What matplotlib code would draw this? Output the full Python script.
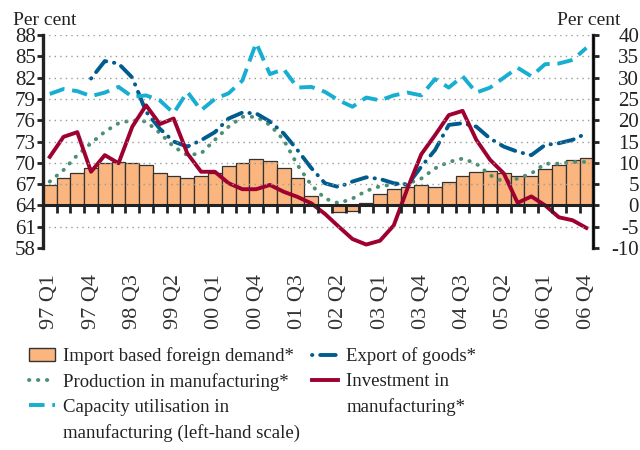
import matplotlib
matplotlib.use("Agg")
import matplotlib.pyplot as plt
from matplotlib.patches import Patch
from matplotlib.lines import Line2D
import numpy as np

plt.rcParams["font.family"] = ["Liberation Serif", "DejaVu Serif"]
plt.rcParams["axes.unicode_minus"] = False

# quarters 97 Q1 .. 06 Q4
years = ["97", "98", "99", "00", "01", "02", "03", "04", "05", "06"]
quarters = [f"{y} Q{q}" for y in years for q in range(1, 5)]

imports = [4.9, 6.4, 7.7, 8.8, 9.9, 10.2, 9.9, 9.4, 7.7, 6.8,
           6.4, 6.8, 7.7, 9.2, 9.9, 11.0, 10.4, 8.8, 6.5, 2.3,
           0.1, -1.6, -1.4, 0.6, 2.7, 3.9, 4.3, 4.7, 4.3, 5.5,
           7.0, 7.8, 8.1, 7.6, 7.0, 7.0, 8.6, 9.6, 10.6, 11.2]
capacity = [79.7, 80.4, 80.1, 79.4, 79.9, 80.7, 79.3, 79.5, 78.8, 77.0,
            80.0, 77.4, 79.0, 79.8, 81.6, 86.9, 82.5, 83.2, 80.6, 80.7,
            80.0, 78.8, 77.9, 79.2, 78.8, 79.5, 79.9, 79.5, 81.8, 80.6,
            82.2, 79.9, 80.6, 82.0, 83.4, 82.2, 83.9, 84.0, 84.5, 86.2]
export = [np.nan, np.nan, np.nan, 29.8, 33.9, 33.3, 30.0, 22.0, 18.0, 15.0,
          13.8, 15.3, 17.2, 20.4, 21.8, 21.6, 19.7, 16.9, 13.0, 8.8,
          5.2, 4.3, 5.6, 6.6, 6.2, 5.2, 4.8, 9.1, 13.0, 18.9,
          19.3, 18.5, 15.7, 13.8, 12.6, 11.8, 14.2, 14.6, 15.4, 16.9]
production = [5.6, 8.3, 11.8, 14.6, 17.3, 19.3, 20.0, 19.7, 17.0, 13.8,
              11.8, 12.2, 15.4, 18.5, 20.8, 20.8, 18.9, 15.4, 9.5, 4.8,
              1.6, 0.5, 1.6, 3.4, 4.5, 4.9, 5.1, 6.3, 8.7, 10.2,
              11.0, 9.8, 7.1, 5.5, 6.3, 7.5, 9.8, 9.8, 10.2, 10.2]
investment = [11.4, 16.1, 17.2, 7.9, 11.8, 9.9, 18.5, 23.5, 19.1, 20.4,
              12.2, 7.9, 7.9, 5.2, 3.8, 3.8, 4.8, 3.2, 2.0, 0.5,
              -2.0, -5.0, -7.9, -9.2, -8.3, -4.7, 4.0, 12.0, 16.5, 21.2,
              22.2, 15.4, 10.7, 7.5, 0.6, 2.1, 0.0, -2.8, -3.5, -5.3]

c_bar = "#fbb57f"
c_cap = "#17aed2"
c_exp = "#005c8f"
c_prod = "#4b9072"
c_inv = "#9e0030"
ink = "#222222"

ls_prod = (0, (0.1, 2.2))
ls_exp = (0, (0.1, 2.0, 4.0, 2.0))
ls_cap = (0, (4.0, 2.0))

x = np.arange(len(quarters))

fig = plt.figure(figsize=(6.4, 4.5), dpi=100)
ax = fig.add_axes([0.067, 0.449, 0.86, 0.473])
ax2 = ax.twinx()

ax.set_ylim(58, 88)
ax.set_yticks(np.arange(58, 89, 3))
ax2.set_ylim(-10, 40)
ax2.set_yticks(np.arange(-10, 41, 5))
ax.set_xlim(-0.5, len(x) - 0.5)

for v in np.arange(61, 89, 3):
    ax.axhline(v, color="#999999", lw=1, ls=(0, (1, 3)), zorder=0)

ax2.bar(x, imports, width=1.0, color=c_bar, edgecolor="#333333", lw=0.9, zorder=1)
ax2.plot(x, production, color=c_prod, lw=2.8, ls=ls_prod,
         dash_capstyle="round", zorder=3)
ax2.plot(x, export, color=c_exp, lw=2.8, ls=ls_exp,
         dash_capstyle="round", zorder=3)
ax2.plot(x, investment, color=c_inv, lw=2.8, zorder=4)
ax.plot(x, capacity, color=c_cap, lw=2.8, ls=ls_cap, zorder=5)
ax.set_zorder(ax2.get_zorder() + 1)
ax.patch.set_visible(False)

# zero line with quarter tick marks
zero = ax.secondary_xaxis((64 - 58) / 30)
zero.set_xticks(np.arange(len(x) + 1) - 0.5)
zero.set_xticklabels([])
zero.tick_params(length=6, width=2, direction="out", color=ink)
zero.spines["bottom"].set_linewidth(2.2)
zero.spines["bottom"].set_color(ink)

for a in (ax, ax2):
    a.spines["top"].set_visible(False)
    a.spines["bottom"].set_visible(False)
ax.spines["left"].set_linewidth(2.4)
ax2.spines["right"].set_linewidth(2.4)
ax.spines["left"].set_color(ink)
ax2.spines["right"].set_color(ink)
ax.tick_params(axis="y", length=4, width=2, labelsize=15, pad=1,
               color=ink, labelcolor=ink)
ax2.tick_params(axis="y", length=4, width=2, labelsize=15, pad=29,
                color=ink, labelcolor=ink)
for lab in ax2.get_yticklabels():
    lab.set_horizontalalignment("right")

ax.set_xticks(x[::3])
ax.set_xticklabels(quarters[::3], rotation=90, fontsize=16, color="#333333")
ax.tick_params(axis="x", length=0, pad=19)

fig.text(0.02, 0.945, "Per cent", fontsize=14, color=ink)
fig.text(0.97, 0.945, "Per cent", fontsize=14, color=ink, ha="right")

# legend: continuation lines get an invisible handle so the keys sit on the first line
blank = Line2D([], [], color="none")
handles = [
    Patch(facecolor=c_bar, edgecolor="#333333"),
    Line2D([], [], color=c_prod, lw=2.8, ls=ls_prod, dash_capstyle="round"),
    Line2D([], [], color=c_cap, lw=2.8, ls=ls_cap),
    blank,
    Line2D([], [], color=c_exp, lw=2.8, ls=ls_exp, dash_capstyle="round"),
    Line2D([], [], color=c_inv, lw=2.8),
    blank,
    blank,
]
labels = [
    "Import based foreign demand*",
    "Production in manufacturing*",
    "Capacity utilisation in",
    "manufacturing (left-hand scale)",
    "Export of goods*",
    "Investment in",
    "manufacturing*",
    " ",
]
leg = fig.legend(handles, labels, loc="upper left", bbox_to_anchor=(0.045, 0.228),
                 ncol=2, frameon=False, fontsize=13.5, handlelength=1.4,
                 handletextpad=0.45, columnspacing=0.6, labelspacing=0.42,
                 borderpad=0, borderaxespad=0)
for t in leg.get_texts():
    t.set_color(ink)

fig.savefig("out.png", dpi=100)
